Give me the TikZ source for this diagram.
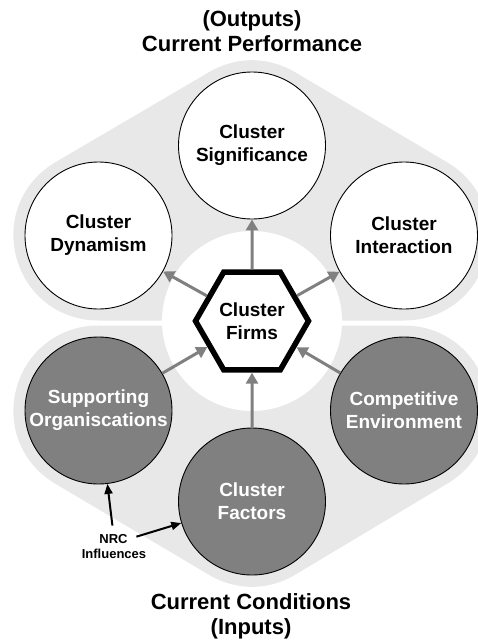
\documentclass[tikz,border=0pt]{standalone}
\usepackage{fontspec}
\setmainfont{Liberation Sans}
\usetikzlibrary{arrows.meta,shapes.geometric}
\definecolor{midgrey}{HTML}{808080}
\definecolor{haze}{HTML}{E8E8E8}

\begin{document}
\begin{tikzpicture}[
  x=1pt, y=-1pt,
  outcome/.style={circle, draw, line width=0.9pt, fill=white, minimum size=147pt, inner sep=0pt,
    align=center, font=\fontsize{19}{23}\selectfont\bfseries},
  condition/.style={outcome, fill=midgrey, text=white},
  core/.style={regular polygon, regular polygon sides=6, draw, line width=5.5pt, fill=white,
    minimum size=113pt, inner sep=0pt, align=center, font=\fontsize{19}{23}\selectfont\bfseries},
  heading/.style={align=center, inner sep=0pt, font=\fontsize{22}{25}\selectfont\bfseries},
  small/.style={inner sep=0pt, font=\fontsize{13}{15}\selectfont\bfseries},
  link/.style={-{Triangle[length=11pt, width=12pt]}, line width=3pt, midgrey},
  nudge/.style={-{Triangle[length=10pt, width=8pt]}, line width=2pt, black},
  hull/.style={fill=haze, draw=haze, line width=170pt, line join=round}
]
  \useasboundingbox (0,0) rectangle (477,643);

  % Circle centres
  \coordinate (pSig)   at (252,145.5);
  \coordinate (pDyn)   at (98.5,235.5);
  \coordinate (pInt)   at (404,235.5);
  \coordinate (pSup)   at (98.5,410.5);
  \coordinate (pComp)  at (404,410.5);
  \coordinate (pFac)   at (252,501.5);
  \coordinate (pFirms) at (252,321);

  % Grey bands behind the outputs and the inputs
  \path[hull] (pSig) -- (pDyn) -- (pInt) -- cycle;
  \path[hull] (pSup) -- (pComp) -- (pFac) -- cycle;
  \fill[white] (pFirms) circle (90);

  % Outputs (top)
  \node[outcome] (sig)   at (pSig) {Cluster\\Significance};
  \node[outcome] (dyn)   at (pDyn) {Cluster\\Dynamism};
  \node[outcome] (inter) at (pInt) {Cluster\\Interaction};

  % Inputs (bottom)
  \node[condition] (sup)  at (pSup)  {Supporting\\Organiscations};
  \node[condition] (comp) at (pComp) {Competitive\\Environment};
  \node[condition] (fac)  at (pFac)  {Cluster\\Factors};

  % Centre
  \node[core] (firms) at (pFirms) {Cluster\\Firms};

  % Links through the firms
  \draw[link] (firms) -- (sig);
  \draw[link] (firms) -- (dyn);
  \draw[link] (firms) -- (inter);
  \draw[link] (sup) -- (firms);
  \draw[link] (comp) -- (firms);
  \draw[link] (fac) -- (firms);

  % Headings
  \node[heading] (outputs) at (252,31) {(Outputs)\\Current Performance};
  \node[heading] (inputs)  at (251,616) {Current Conditions\\(Inputs)};

  % NRC influences
  \node[small] (nrc)  at (113.5,539.3) {NRC};
  \node[small] (infl) at (114,554.3) {Influences};
  \draw[nudge, shorten <=9pt] (nrc.north) -- (sup);
  \draw[nudge, shorten <=9pt] (nrc.east) -- (fac);

\end{tikzpicture}
\end{document}
